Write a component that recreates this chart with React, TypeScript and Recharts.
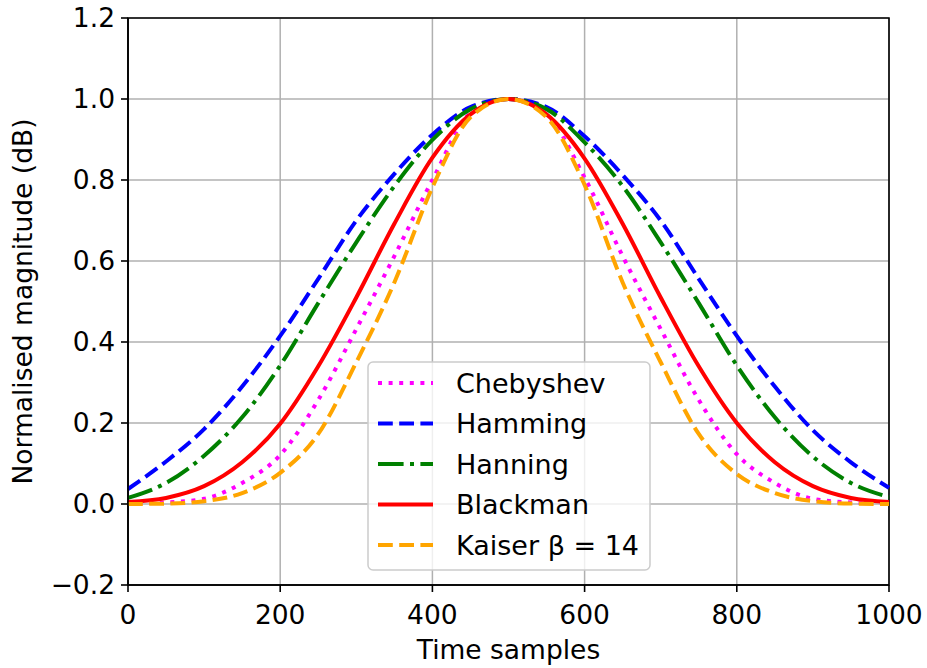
import { LineChart, Line, XAxis, YAxis, CartesianGrid, Legend, ReferenceArea, Label } from 'recharts';

document.body.style.margin = '0';

// sample index along the window
const samples = [0, 50, 100, 150, 200, 250, 300, 350, 400, 450, 500, 550, 600, 650, 700, 750, 800, 850, 900, 950, 1000];

// values
const chebyshev = [0.002, 0.004, 0.013, 0.052, 0.121, 0.257, 0.432, 0.612, 0.8, 0.965, 1.0, 0.962, 0.806, 0.612, 0.432, 0.257, 0.123, 0.052, 0.013, 0.004, 0.002];
const hamming = [0.037, 0.105, 0.185, 0.29, 0.415, 0.556, 0.7, 0.815, 0.912, 0.98, 1.0, 0.98, 0.908, 0.812, 0.7, 0.556, 0.415, 0.29, 0.182, 0.103, 0.04];
const hanning = [0.015, 0.052, 0.119, 0.214, 0.342, 0.496, 0.646, 0.785, 0.899, 0.975, 1.0, 0.975, 0.893, 0.785, 0.646, 0.496, 0.342, 0.214, 0.117, 0.052, 0.017];
const blackman = [0.005, 0.015, 0.044, 0.103, 0.198, 0.34, 0.51, 0.692, 0.855, 0.962, 1.0, 0.962, 0.853, 0.692, 0.51, 0.34, 0.2, 0.103, 0.044, 0.015, 0.005];
const kaiser = [0.0, 0.001, 0.007, 0.027, 0.077, 0.173, 0.35, 0.547, 0.782, 0.955, 1.0, 0.955, 0.788, 0.547, 0.35, 0.173, 0.074, 0.027, 0.007, 0.001, 0.0];

const xTicks = [0, 200, 400, 600, 800, 1000];
const yTicks = [-0.2, 0, 0.2, 0.4, 0.6, 0.8, 1.0, 1.2];

const FONT = '"DejaVu Sans", sans-serif';

const series = [
  { key: 'chebyshev', name: 'Chebyshev', color: '#ff00ff', dash: '4 6.6' },
  { key: 'hamming', name: 'Hamming', color: '#0000ff', dash: '14.8 6.4' },
  { key: 'hanning', name: 'Hanning', color: '#008000', dash: '25.6 6.4 4 6.4' },
  { key: 'blackman', name: 'Blackman', color: '#ff0000', dash: undefined },
  { key: 'kaiser', name: 'Kaiser β = 14', color: '#ffa500', dash: '14.8 6.4' },
];

const data = samples.map((x, i) => ({
  x,
  chebyshev: chebyshev[i],
  hamming: hamming[i],
  hanning: hanning[i],
  blackman: blackman[i],
  kaiser: kaiser[i],
}));

const fmtY = (v: number) => (v < 0 ? '\u2212' + Math.abs(v).toFixed(1) : v.toFixed(1));

function WindowLegend() {
  return (
    <svg width={284} height={210} style={{ display: 'block' }}>
      <rect x={1} y={1} width={282} height={208} rx={5} fill="#fff" fillOpacity={0.8} stroke="#cccccc" strokeWidth={1.5} />
      {series.map((s, i) => {
        const cy = 22 + i * 40.5;
        return (
          <g key={s.key}>
            <line x1={11} x2={66} y1={cy} y2={cy} stroke={s.color} strokeWidth={4} strokeDasharray={s.dash} />
            <text x={89} y={cy} dominantBaseline="central" fontSize={27} fontFamily={FONT} fill="#000">
              {s.name}
            </text>
          </g>
        );
      })}
    </svg>
  );
}

export default function App() {
  return (
    <LineChart width={927} height={668} data={data} margin={{ top: 18, right: 38, bottom: 0, left: 8 }}>
      <CartesianGrid stroke="#b0b0b0" strokeWidth={1.5} />
      <XAxis
        dataKey="x"
        type="number"
        domain={[0, 1000]}
        ticks={xTicks}
        height={83}
        stroke="#000"
        strokeWidth={1.6}
        tickSize={7}
        tickMargin={13}
        tick={{ fill: '#000', fontSize: 26.5, fontFamily: FONT }}
      >
        <Label
          content={({ viewBox }: any) => (
            <text x={viewBox.x + viewBox.width / 2} y={659} textAnchor="middle" fontSize={26.5} fontFamily={FONT} fill="#000">
              Time samples
            </text>
          )}
        />
      </XAxis>
      <YAxis
        type="number"
        domain={[-0.2, 1.2]}
        ticks={yTicks}
        width={120}
        stroke="#000"
        strokeWidth={1.6}
        tickSize={7}
        tickMargin={6}
        tickFormatter={fmtY}
        tick={{ fill: '#000', fontSize: 26.5, fontFamily: FONT }}
      >
        <Label
          content={({ viewBox }: any) => {
            const cx = 22;
            const cy = viewBox.y + viewBox.height / 2;
            return (
              <text
                x={cx}
                y={cy}
                transform={`rotate(-90 ${cx} ${cy})`}
                textAnchor="middle"
                dominantBaseline="central"
                fontSize={26.5}
                fontFamily={FONT}
                fill="#000"
              >
                Normalised magnitude (dB)
              </text>
            );
          }}
        />
      </YAxis>
      {series.map((s) => (
        <Line
          key={s.key}
          type="monotone"
          dataKey={s.key}
          name={s.name}
          stroke={s.color}
          strokeWidth={4}
          strokeDasharray={s.dash}
          dot={false}
          activeDot={false}
          isAnimationActive={false}
        />
      ))}
      <ReferenceArea x1={0} x2={1000} y1={-0.2} y2={1.2} fill="none" stroke="#000" strokeWidth={1.6} />
      <Legend
        layout="horizontal"
        verticalAlign="middle"
        align="center"
        content={() => <WindowLegend />}
        wrapperStyle={{ position: 'absolute', left: 367, top: 361, width: 284, height: 210 }}
      />
    </LineChart>
  );
}
